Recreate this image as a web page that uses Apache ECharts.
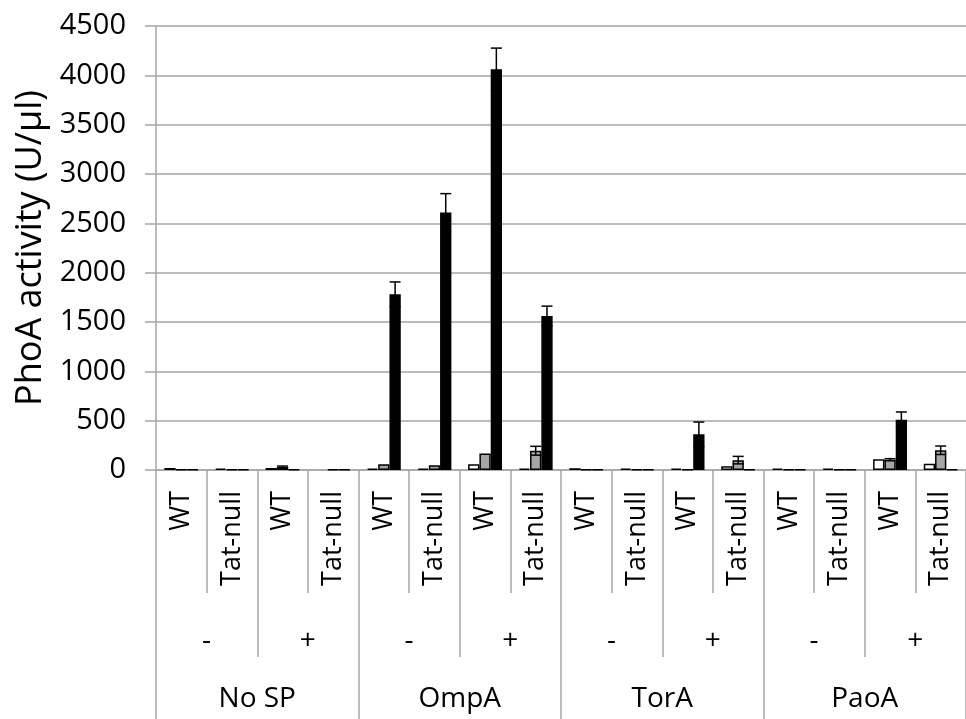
<!DOCTYPE html>
<html>
<head>
<meta charset="utf-8">
<script src="https://cdn.jsdelivr.net/npm/echarts@6/dist/echarts.min.js"></script>
<style>
html,body{margin:0;padding:0;background:#fff;}
#chart{width:966px;height:719px;}
</style>
</head>
<body>
<div id="chart"></div>
<script>
// ---- data ----
const strainLabels = ['WT','Tat-null','WT','Tat-null','WT','Tat-null','WT','Tat-null','WT','Tat-null','WT','Tat-null','WT','Tat-null','WT','Tat-null'];
const inducerLabels = ['-','+','-','+','-','+','-','+'];
const spLabels = ['No SP','OmpA','TorA','PaoA'];
const yTicks = [0, 500, 1000, 1500, 2000, 2500, 3000, 3500, 4000, 4500];

const whiteValues = [20, 15, 20, null, 15, 15, 58, 15, 18, 15, 15, 37, 15, 15, 108, 64];
const grayValues  = [5, 5, 30, 5, 58, 48, 166, 195, 5, 5, 5, 100, 5, 5, 105, 200];
const blackValues = [5, 5, 5, 5, 1781, 2609, 4061, 1561, 5, 5, 362, 5, 5, 5, 510, 5];

const whiteErr = [0, 0, 0, 0, 0, 0, 0, 0, 0, 0, 0, 0, 0, 0, 0, 0];
const grayErr  = [0, 0, 10, 0, 0, 0, 0, 45, 0, 0, 0, 38, 0, 0, 10, 43];
const blackErr = [0, 0, 0, 0, 125, 192, 215, 100, 0, 0, 124, 0, 0, 0, 78, 0];

// ---- chart ----
const FONT = 'Open Sans';
const BAR_W = 11.3;
const GRID_COLOR = '#a6a6a6';

function errData(vals, errs) {
  const out = [];
  vals.forEach((v, i) => { if (v != null && errs[i] > 0) out.push([i, v, errs[i]]); });
  return out;
}
function errSeries(vals, errs, offset) {
  return {
    type: 'custom',
    xAxisIndex: 0, yAxisIndex: 0,
    data: errData(vals, errs),
    z: 5,
    renderItem: function (params, api) {
      const i = api.value(0), v = api.value(1), e = api.value(2);
      const top = api.coord([i, v + e]);
      const bot = api.coord([i, Math.max(0, v - e)]);
      const cx = top[0] + offset;
      const hw = 5.5;
      const style = { stroke: '#000', lineWidth: 1.5 };
      return {
        type: 'group',
        children: [
          { type: 'line', shape: { x1: cx, y1: top[1], x2: cx, y2: bot[1] }, style: style },
          { type: 'line', shape: { x1: cx - hw, y1: top[1], x2: cx + hw, y2: top[1] }, style: style },
          { type: 'line', shape: { x1: cx - hw, y1: bot[1], x2: cx + hw, y2: bot[1] }, style: style }
        ]
      };
    }
  };
}

const chart = echarts.init(document.getElementById('chart'), null, { renderer: 'canvas' });
const option = {
  animation: false,
  backgroundColor: '#fff',
  textStyle: { fontFamily: FONT },
  grid: { left: 156, top: 26, width: 816, height: 444, containLabel: false },
  xAxis: [
    {
      type: 'category', position: 'bottom', data: strainLabels,
      axisLine: { show: true, lineStyle: { color: GRID_COLOR, width: 1.5 } },
      axisTick: { show: true, interval: 0, length: 123, lineStyle: { color: GRID_COLOR, width: 1.5 } },
      axisLabel: { interval: 0, rotate: 90, margin: 21, fontSize: 27, color: '#000', fontFamily: FONT }
    },
    {
      type: 'category', position: 'bottom', data: inducerLabels,
      axisLine: { show: false },
      axisTick: { show: true, interval: 0, length: 187, lineStyle: { color: GRID_COLOR, width: 1.5 } },
      axisLabel: { interval: 0, margin: 157, fontSize: 28, color: '#000', fontFamily: FONT }
    },
    {
      type: 'category', position: 'bottom', data: spLabels,
      axisLine: { show: false },
      axisTick: { show: true, interval: 0, length: 249, lineStyle: { color: GRID_COLOR, width: 1.5 } },
      axisLabel: { interval: 0, margin: 215, fontSize: 28, color: '#000', fontFamily: FONT }
    }
  ],
  yAxis: {
    type: 'value', min: yTicks[0], max: yTicks[yTicks.length - 1], interval: 500,
    name: 'PhoA activity (U/µl)', nameLocation: 'middle', nameGap: 106,
    nameTextStyle: { fontSize: 36, color: '#000', fontFamily: FONT },
    axisLine: { show: true, lineStyle: { color: GRID_COLOR, width: 1.5 } },
    axisTick: { show: true, length: 11, lineStyle: { color: GRID_COLOR, width: 1.5 } },
    axisLabel: { margin: 30, fontSize: 29, color: '#000', fontFamily: FONT,
      formatter: function (v) { return String(v); } },
    splitLine: { show: true, lineStyle: { color: GRID_COLOR, width: 1.5 } }
  },
  series: [
    { type: 'bar', name: 'white', data: whiteValues, barWidth: BAR_W, barGap: '0%',
      itemStyle: { color: '#fff', borderColor: '#000', borderWidth: 1.5 } },
    { type: 'bar', name: 'gray', data: grayValues, barWidth: BAR_W, barGap: '0%',
      itemStyle: { color: '#a6a6a6', borderColor: '#000', borderWidth: 1.5 } },
    { type: 'bar', name: 'black', data: blackValues, barWidth: BAR_W, barGap: '0%',
      itemStyle: { color: '#000', borderColor: '#000', borderWidth: 1.5 } },
    errSeries(whiteValues, whiteErr, -BAR_W),
    errSeries(grayValues, grayErr, 0),
    errSeries(blackValues, blackErr, BAR_W)
  ]
};
chart.setOption(option);
</script>
</body>
</html>
